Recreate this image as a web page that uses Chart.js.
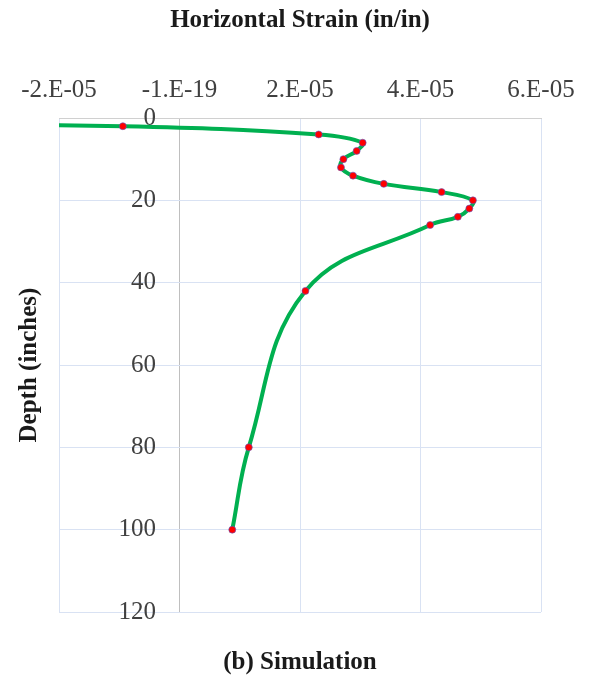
<!DOCTYPE html>
<html>
<head>
<meta charset="utf-8">
<script src="https://cdn.jsdelivr.net/npm/chart.js@4.4.1/dist/chart.umd.min.js"></script>
<style>
  html, body { margin: 0; padding: 0; background: #fff; }
</style>
</head>
<body>
<canvas id="strainChart" width="590" height="678"></canvas>
<script>
// Depth (inches) and horizontal strain (in/in)
const depths  = [0, 2, 4, 6, 8, 10, 12, 14, 16, 18, 20, 22, 24, 26, 42, 80, 100];
const strains = [-1.0e-4, -0.94e-5, 2.31e-5, 3.04e-5, 2.94e-5, 2.72e-5, 2.68e-5, 2.88e-5,
                 3.39e-5, 4.35e-5, 4.87e-5, 4.81e-5, 4.62e-5, 4.16e-5, 2.09e-5, 1.15e-5, 0.876e-5];

// Axis ticks as printed on the original (Excel float artefact kept)
const xTickValues = [-2e-5, 0, 2e-5, 4e-5, 6e-5];
const xTickLabels = ['-2.E-05', '-1.E-19', '2.E-05', '4.E-05', '6.E-05'];
const depthTicks  = [0, 20, 40, 60, 80, 100, 120];

const serif = 'Liberation Serif, Times New Roman, serif';
const gridBlue = '#d9e2f3';
const axisGrey = '#bfbfbf';
// depth labels sit just left of the x = 0 axis line, like Excel does
const depthLabelAnchor = -0.39e-5;

const points = depths.map((d, i) => ({ x: strains[i], y: d }));

// helper for the axes that only carry a title
function titleOnly(axis, position, text, padding) {
  return {
    type: 'linear',
    axis: axis,
    position: position,
    ticks: { display: false },
    grid: { display: false },
    border: { display: false },
    title: {
      display: true,
      text: text,
      color: '#1a1a1a',
      font: { family: serif, size: 25, weight: 'bold' },
      padding: padding
    }
  };
}

new Chart(document.getElementById('strainChart'), {
  type: 'scatter',
  data: {
    datasets: [{
      data: points,
      showLine: true,
      borderColor: '#00b050',
      borderWidth: 4,
      tension: 0.4,
      pointRadius: 3.5,
      pointBackgroundColor: '#ff0000',
      pointBorderColor: 'rgba(90,90,200,0.6)',
      pointBorderWidth: 1
    }]
  },
  options: {
    responsive: false,
    animation: false,
    layout: { padding: { left: 0, right: 49, top: 0, bottom: 0 } },
    plugins: {
      legend: { display: false },
      tooltip: { enabled: false }
    },
    scales: {
      x: {
        type: 'linear',
        position: 'top',
        min: -2e-5,
        max: 6e-5,
        afterBuildTicks: s => { s.ticks = xTickValues.map(v => ({ value: v })); },
        ticks: {
          callback: (v, i) => xTickLabels[i],
          color: '#404040',
          font: { family: serif, size: 25 },
          padding: 13,
          maxRotation: 0,
          autoSkip: false
        },
        grid: {
          color: c => (c.tick && c.tick.value === 0 ? axisGrey : gridBlue),
          drawTicks: false
        },
        border: { display: true, color: '#d0d0d0' },
        title: {
          display: true,
          text: 'Horizontal Strain (in/in)',
          color: '#1a1a1a',
          font: { family: serif, size: 25, weight: 'bold' },
          padding: { top: 6, bottom: 26 }
        }
      },
      y: {
        type: 'linear',
        reverse: true,
        min: 0,
        max: 120,
        position: { x: depthLabelAnchor },
        afterBuildTicks: s => { s.ticks = depthTicks.map(v => ({ value: v })); },
        ticks: {
          color: '#404040',
          font: { family: serif, size: 25 }
        },
        grid: { color: gridBlue, drawTicks: false },
        border: { display: false }
      },
      yTitle: titleOnly('y', 'left', 'Depth (inches)', { top: 15, bottom: 6 }),
      xTitle: titleOnly('x', 'bottom', '(b) Simulation', { top: 28, bottom: 0 })
    }
  }
});
</script>
</body>
</html>
